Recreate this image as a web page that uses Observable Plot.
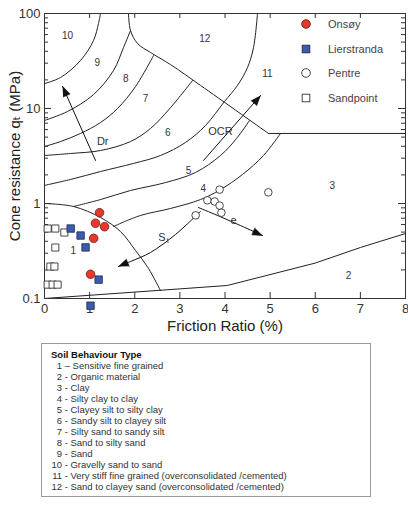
<!DOCTYPE html>
<html><head><meta charset="utf-8">
<script src="https://cdn.jsdelivr.net/npm/d3@7"></script>
<script src="https://cdn.jsdelivr.net/npm/@observablehq/plot@0.6"></script>
<style>
body{margin:0;background:#fff;font-family:"Liberation Sans",Arial,Helvetica,sans-serif;}
#wrap{position:relative;width:408px;height:511px;overflow:hidden;background:#fff}
#chart{position:absolute;left:0;top:0}
.lg{position:absolute;font-size:11px;color:#444;line-height:14px;white-space:nowrap}
.lgm{position:absolute}
#table{position:absolute;left:41px;top:343px;width:330px;height:154px;border:1px solid #9a9a9a;box-sizing:border-box;font-size:9.5px;color:#333;padding:5px 0 0 9px;line-height:11px;white-space:nowrap}
#table .hdr{font-weight:bold;color:#111}
#table .n{display:inline-block;width:11px;text-align:right}
</style></head>
<body><div id="wrap"><div id="chart"></div><div id="legend"></div><div id="table"></div></div>
<script>
// ---------- data ----------
const xTicks = [0, 1, 2, 3, 4, 5, 6, 7, 8];
const yTicks = [0.1, 1, 10, 100];
const yTickLabels = ["0.1", "1", "10", "100"];

const seriesNames = ["Onsøy", "Lierstranda", "Pentre", "Sandpoint"];
const onsoyRf = [1.22, 1.13, 1.33, 1.09, 1.02];
const onsoyQt = [0.80, 0.62, 0.57, 0.43, 0.18];
const lierRf = [0.58, 0.80, 0.91, 1.20, 1.02];
const lierQt = [0.545, 0.46, 0.345, 0.158, 0.084];
const pentreRf = [3.35, 3.61, 3.77, 3.88, 3.88, 3.92, 4.96];
const pentreQt = [0.75, 1.08, 1.05, 1.40, 0.95, 0.80, 1.31];
const sandRf = [0.07, 0.24, 0.44, 0.24, 0.13, 0.22, 0.07, 0.18, 0.29];
const sandQt = [0.545, 0.545, 0.495, 0.344, 0.217, 0.217, 0.14, 0.14, 0.14];

// zone boundaries [Rf %, qt MPa]
const bound1 = [[0, 1.0], [0.643, 0.93], [1.241, 0.712], [1.684, 0.507], [2.017, 0.320], [2.305, 0.207], [2.571, 0.121]];
const bound2 = [[0, 0.1], [4.05, 0.137], [6.0, 0.236], [7.0, 0.344], [8, 0.483]];
const bound12 = [[1.861, 100], [1.906, 66.2], [2.061, 48.3], [2.349, 38.9], [2.792, 29.0], [3.457, 17.5], [4.964, 5.46]];
const bound11 = [[4.964, 5.46], [8, 5.46]];
const bound9_10 = [[0, 18.3], [0.355, 21.2], [0.798, 32.0], [1.086, 52.0], [1.197, 78.5], [1.241, 100]];
const bound8_9 = [[0, 7.48], [0.510, 9.30], [1.086, 14.0], [1.529, 25.1], [1.751, 43.8], [1.906, 66.2]];
const bound7_8 = [[0, 3.98], [0.355, 4.49], [0.798, 5.46], [1.241, 7.12], [1.618, 10.0], [2.017, 17.0], [2.416, 36.1]];
const bound6_7 = [[0, 3.20], [0.576, 3.36], [1.241, 3.61], [1.906, 4.49], [2.349, 6.16], [2.792, 10.2], [3.280, 19.7]];
const bound5_6 = [[0, 1.55], [0.576, 1.79], [1.241, 2.17], [1.972, 2.64], [2.571, 3.20], [3.125, 4.39], [3.568, 6.62], [3.989, 11.85], [4.277, 17.5], [4.499, 27.0], [4.632, 43.8], [4.720, 100]];
const bound4_5 = [[0.643, 0.93], [1.241, 1.10], [1.906, 1.37], [2.681, 1.66], [3.346, 2.12], [3.900, 3.20], [4.255, 4.83], [4.543, 7.48]];
const bound3_4 = [[1.529, 0.573], [2.127, 0.748], [2.792, 0.886], [3.457, 1.10], [3.900, 1.40], [4.388, 2.02], [4.853, 3.20], [5.230, 5.46]];

// trend arrows [Rf, qt], last point = tip
const arrowDr = [[1.13, 2.84], [0.40, 17.1]];
const arrowOCR = [[3.524, 2.84], [4.787, 13.7]];
const arrowSt = [[3.457, 0.824], [2.903, 0.472], [2.349, 0.305], [1.906, 0.245], [1.64, 0.217]];
const arrowE = [[3.41, 0.908], [3.834, 0.748], [4.343, 0.586], [4.831, 0.46]];

const zoneLabels = ["10", "9", "8", "7", "6", "5", "4", "3", "2", "1", "12", "11"];
const zoneLabelRf = [0.51, 1.17, 1.80, 2.24, 2.73, 3.19, 3.52, 6.38, 6.74, 0.64, 3.55, 4.94];
const zoneLabelQt = [58.7, 30.5, 20.7, 12.7, 5.59, 2.23, 1.44, 1.55, 0.175, 0.320, 54.5, 23.4];

const noteLabels = ["Dr", "OCR", "e", "S"];
const noteRf = [1.29, 3.90, 4.19, 2.60];
const noteQt = [4.45, 5.73, 0.662, 0.439];

const sbtTitle = "Soil Behaviour Type";
const sbtNumbers = ["1", "2", "3", "4", "5", "6", "7", "8", "9", "10", "11", "12"];
const sbtSeps = ["–", "-", "-", "-", "-", "-", "-", "-", "-", "-", "-", "-"];
const sbtNames = ["Sensitive fine grained", "Organic material", "Clay", "Silty clay to clay",
  "Clayey silt to silty clay", "Sandy silt to clayey silt", "Silty sand to sandy silt",
  "Sand to silty sand", "Sand", "Gravelly sand to sand",
  "Very stiff fine grained (overconsolidated /cemented)", "Sand to clayey sand (overconsolidated /cemented)"];

// ---------- build ----------
const FONT = '"Liberation Sans", Arial, Helvetica, "DejaVu Sans", sans-serif';
const W = 408, H = 340, ML = 44, MR = 3, MT = 13, MB = 42;
const PW = W - ML - MR, PH = H - MT - MB;
const sx = d3.scaleLinear([0, 8], [ML, W - MR]);
const sy = d3.scaleLog([0.1, 100], [H - MB, MT]);

const toRows = (rf, qt) => rf.map((r, i) => ({rf: r, qt: qt[i]}));
const onsoy = toRows(onsoyRf, onsoyQt);
const lier = toRows(lierRf, lierQt);
const pentre = toRows(pentreRf, pentreQt);
const sand = toRows(sandRf, sandQt);

function head(points, len = 10, half = 3.8) {
  const [x0, y0] = points[points.length - 2], [x1, y1] = points[points.length - 1];
  const ax = sx(x0), ay = sy(y0), bx = sx(x1), by = sy(y1);
  const d = Math.hypot(bx - ax, by - ay), ux = (bx - ax) / d, uy = (by - ay) / d;
  const cx = bx - len * ux, cy = by - len * uy;
  return [[bx, by], [cx - half * uy, cy + half * ux], [cx + half * uy, cy - half * ux]]
    .map(([px, py]) => ({rf: sx.invert(px), qt: sy.invert(py)}));
}
const arrows = [arrowDr, arrowOCR, arrowSt, arrowE];
const heads = arrows.flatMap((a, i) => head(a).map(p => ({...p, id: i})));

const minorY = [];
for (const dec of [0.1, 1, 10]) for (let k = 2; k <= 9; k++) minorY.push(+(dec * k).toPrecision(3));
const innerX = xTicks.slice(1, -1);
const majorYInner = yTicks.slice(1, -1);

const curved = [bound1, bound12, bound9_10, bound8_9, bound7_8, bound6_7, bound5_6, bound4_5, bound3_4];
const straight = [bound2, bound11];
const lineStyle = {x: d => d[0], y: d => d[1], stroke: "#222", strokeWidth: 1};

const zones = zoneLabels.map((t, i) => ({t, rf: zoneLabelRf[i], qt: zoneLabelQt[i]}));
const notes = noteLabels.map((t, i) => ({t, rf: noteRf[i], qt: noteQt[i]}));

const chart = Plot.plot({
  width: W, height: H, marginLeft: ML, marginRight: MR, marginTop: MT, marginBottom: MB,
  x: {domain: [0, 8], axis: null},
  y: {type: "log", domain: [0.1, 100], axis: null},
  style: {fontFamily: FONT, background: "white", overflow: "visible"},
  marks: [
    ...curved.map(b => Plot.line(b, {...lineStyle, curve: "catmull-rom"})),
    ...straight.map(b => Plot.line(b, {...lineStyle, curve: "linear"})),
    ...arrows.map(a => Plot.line(a, {...lineStyle, curve: "catmull-rom", stroke: "#111"})),
    Plot.line(heads, {x: "rf", y: "qt", z: "id", fill: "#111", stroke: "#111", strokeWidth: 0.6}),
    Plot.text(zones, {x: "rf", y: "qt", text: "t", fontSize: 10, fill: "#333"}),
    Plot.text(notes, {x: "rf", y: "qt", text: "t", fontSize: 11, fill: "#333"}),
    Plot.text(notes.filter(d => d.t === "S"), {x: "rf", y: "qt", text: () => "t", fontSize: 7, dx: 6, dy: 3, fill: "#333"}),
    // frame and inward ticks
    Plot.frame({stroke: "#333", strokeWidth: 1}),
    Plot.tickX(innerX, {x: d => d, insetTop: PH - 6, stroke: "#333"}),
    Plot.tickX(innerX, {x: d => d, insetBottom: PH - 5, stroke: "#333"}),
    Plot.tickY(majorYInner, {y: d => d, insetRight: PW - 7, stroke: "#333"}),
    Plot.tickY(minorY, {y: d => d, insetRight: PW - 4, stroke: "#333"}),
    Plot.tickY(majorYInner, {y: d => d, insetLeft: PW - 7, stroke: "#333"}),
    Plot.tickY(minorY, {y: d => d, insetLeft: PW - 4, stroke: "#333"}),
    // tick labels and titles
    Plot.text(yTicks, {y: d => d, text: (d, i) => yTickLabels[i], frameAnchor: "left", textAnchor: "end", dx: -4, fontSize: 13, fill: "#333"}),
    Plot.text(xTicks, {x: d => d, text: d => String(d), frameAnchor: "bottom", dy: 14, fontSize: 13, fill: "#333"}),
    Plot.text(["Friction Ratio (%)"], {text: d => d, frameAnchor: "bottom", dy: 32, fontSize: 15, fill: "#222"}),
    Plot.text(["Cone resistance qₜ (MPa)"], {text: d => d, frameAnchor: "left", textAnchor: "middle", rotate: -90, dx: -29, fontSize: 15, fill: "#222"}),
    // data
    Plot.dot(sand, {x: "rf", y: "qt", symbol: "square", r: 4.0, fill: "white", stroke: "#333", strokeWidth: 0.9}),
    Plot.dot(pentre, {x: "rf", y: "qt", r: 3.8, fill: "white", stroke: "#333", strokeWidth: 0.9}),
    Plot.dot(lier, {x: "rf", y: "qt", symbol: "square", r: 4.2, fill: "#3a5dab", stroke: "#1e2a55", strokeWidth: 0.8}),
    Plot.dot(onsoy, {x: "rf", y: "qt", r: 4.3, fill: "#e8382c", stroke: "#6b1a14", strokeWidth: 0.8})
  ]
});
document.getElementById("chart").append(chart);

// legend (inside plot, top right)
const legendStyles = [
  {shape: "circle", fill: "#e8382c", stroke: "#6b1a14"},
  {shape: "square", fill: "#3a5dab", stroke: "#1e2a55"},
  {shape: "circle", fill: "white", stroke: "#333"},
  {shape: "square", fill: "white", stroke: "#333"}
];
const lg = document.getElementById("legend");
seriesNames.forEach((name, i) => {
  const cy = 24 + i * 24.7;
  const st = legendStyles[i];
  const m = document.createElementNS("http://www.w3.org/2000/svg", "svg");
  m.setAttribute("width", 12); m.setAttribute("height", 12);
  m.setAttribute("class", "lgm");
  m.style.left = (306 - 6) + "px"; m.style.top = (cy - 6) + "px";
  m.innerHTML = st.shape === "circle"
    ? `<circle cx="6" cy="6" r="4.3" fill="${st.fill}" stroke="${st.stroke}" stroke-width="0.9"/>`
    : `<rect x="2.2" y="2.2" width="7.6" height="7.6" fill="${st.fill}" stroke="${st.stroke}" stroke-width="0.9"/>`;
  lg.append(m);
  const t = document.createElement("div");
  t.className = "lg"; t.textContent = name;
  t.style.left = "328px"; t.style.top = (cy - 7) + "px";
  lg.append(t);
});

// soil behaviour type table
const tb = document.getElementById("table");
const hdr = document.createElement("div");
hdr.className = "hdr"; hdr.textContent = sbtTitle; tb.append(hdr);
sbtNames.forEach((name, i) => {
  const row = document.createElement("div");
  const n = document.createElement("span");
  n.className = "n"; n.textContent = sbtNumbers[i];
  row.append(n, document.createTextNode(" " + sbtSeps[i] + " " + name));
  tb.append(row);
});
</script>
</body></html>
